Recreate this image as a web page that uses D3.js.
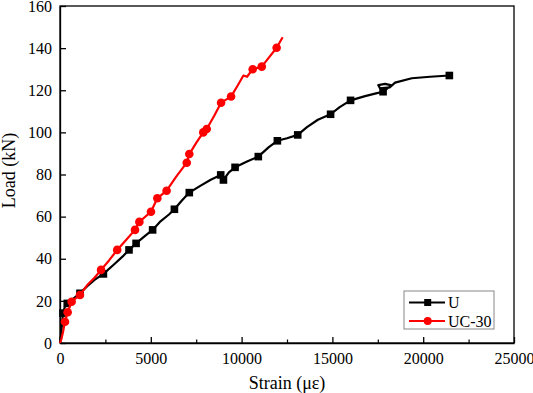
<!DOCTYPE html>
<html>
<head>
<meta charset="utf-8">
<script src="https://cdn.jsdelivr.net/npm/d3@7"></script>
<style>
  body { margin: 0; background: #fff; }
  svg text { font-family: 'Liberation Serif', serif !important; }
</style>
</head>
<body>
<svg id="mainSvg" width="533" height="393"></svg>
<script>
// U : recorded curve (strain in micro-strain, load in kN)
var uLine = [
  [0, 0], [60, 4], [120, 10], [165, 14.2], [260, 17], [400, 18.8], [650, 20.5], [1100, 23.6],
  [1500, 27], [1900, 30], [2390, 32.8], [3000, 37.5], [3500, 41.5], [3800, 44.2], [4190, 47.3],
  [4700, 51], [5100, 53.7], [5500, 57.5], [6000, 61], [6300, 63.5], [6700, 67.5], [7120, 71.4],
  [7700, 74.5], [8300, 77.5], [8850, 79.8], [9000, 77.4], [9300, 81], [9640, 83.4],
  [10300, 86.2], [10920, 88.5], [11500, 93], [11970, 96], [12500, 97.2], [13090, 98.8],
  [13600, 102.5], [14200, 106], [14900, 108.6], [15400, 112], [16000, 115.2], [16800, 117.2],
  [17400, 118.5], [17790, 119.3], [18260, 122.3], [17900, 123], [17530, 122.4], [17620, 120.9],
  [18170, 121.4], [18450, 123.6], [19370, 125.7], [20380, 126.4], [21440, 127]
];
var uMarks = [
  [165, 14.2], [400, 18.8], [1100, 23.6], [2390, 32.8], [3800, 44.2], [4190, 47.3],
  [5100, 53.7], [6300, 63.5], [7120, 71.4], [8850, 79.8], [9000, 77.4], [9640, 83.4],
  [10920, 88.5], [11970, 96], [13090, 98.8], [14900, 108.6], [16000, 115.2], [17790, 119.3],
  [21440, 127]
];

// UC-30
var ucLine = [
  [0, 0], [80, 2], [160, 5], [275, 10.1], [420, 14.6], [640, 19.6], [1100, 22.8], [1500, 27.5],
  [1900, 31], [2260, 34.7], [2700, 39.2], [3150, 44.2], [3650, 49], [4130, 53.7], [4370, 57.5],
  [5010, 62.3], [5360, 68.7], [5870, 72.3], [6400, 79], [6980, 85.6], [7120, 89.7], [7500, 95],
  [7890, 100], [8080, 101.6], [8500, 108], [8870, 114.1], [9420, 117], [9800, 122.5],
  [10100, 127], [10300, 126.4], [10610, 130], [11110, 131.2], [11500, 135.5], [11930, 140.2],
  [12260, 145.2]
];
var ucMarks = [
  [275, 10.1], [420, 14.6], [640, 19.6], [1100, 22.8], [2260, 34.7], [3150, 44.2], [4130, 53.7],
  [4370, 57.5], [5010, 62.3], [5360, 68.7], [5870, 72.3], [6980, 85.6], [7120, 89.7],
  [7890, 100], [8080, 101.6], [8870, 114.1], [9420, 117], [10610, 130], [11110, 131.2],
  [11930, 140.2]
];

var xTicks = [0, 5000, 10000, 15000, 20000, 25000];
var xMinor = [2500, 7500, 12500, 17500, 22500];
var yTicks = [0, 20, 40, 60, 80, 100, 120, 140, 160];
var seriesNames = ["U", "UC-30"];
var seriesColors = ["#000000", "#ff0000"];

var FONT = "'Liberation Serif', serif";

var margin = {top: 6, right: 19, bottom: 50, left: 60},
    width = 533 - margin.left - margin.right,
    height = 393 - margin.top - margin.bottom;

var x = d3.scaleLinear().domain([0, 25000]).range([0, width]);
var y = d3.scaleLinear().domain([0, 160]).range([height, 0]);

var svg = d3.select("#mainSvg");
var g = svg.append("g")
  .attr("transform", "translate(" + margin.left + "," + margin.top + ")");

// frame
g.append("rect")
  .attr("width", width).attr("height", height)
  .attr("fill", "none").attr("stroke", "#000").attr("stroke-width", 1.3);

// x axis
var xAxis = g.append("g")
  .attr("transform", "translate(0," + height + ")")
  .call(d3.axisBottom(x).tickValues(xTicks).tickSizeInner(-6).tickSizeOuter(0).tickPadding(10).tickFormat(d3.format("d")));
xAxis.attr("font-family", null).attr("font-size", null);
xAxis.selectAll("text").style("font-family", FONT).style("font-size", "16px").attr("fill", "#000");
xAxis.selectAll("line, path").attr("stroke", "#000").attr("stroke-width", 1.3);
g.append("g")
  .attr("transform", "translate(0," + height + ")")
  .call(d3.axisBottom(x).tickValues(xMinor).tickSizeInner(-3.5).tickSizeOuter(0).tickFormat(""))
  .call(function(s) { s.select(".domain").remove(); s.selectAll("line").attr("stroke", "#000").attr("stroke-width", 1.2); });

// y axis
var yAxis = g.append("g")
  .call(d3.axisLeft(y).tickValues(yTicks).tickSizeInner(-6).tickSizeOuter(0).tickPadding(8));
yAxis.attr("font-family", null).attr("font-size", null);
yAxis.selectAll("text").style("font-family", FONT).style("font-size", "16px").attr("fill", "#000");
yAxis.selectAll("line, path").attr("stroke", "#000").attr("stroke-width", 1.3);

// axis titles
g.append("text")
  .attr("x", width / 2).attr("y", height + 46)
  .attr("text-anchor", "middle")
  .style("font-family", FONT).style("font-size", "18px")
  .text("Strain (\u03bc\u03b5)");
g.append("text")
  .attr("transform", "rotate(-90)")
  .attr("x", -height / 2 + 4).attr("y", -45)
  .attr("text-anchor", "middle")
  .style("font-family", FONT).style("font-size", "18px")
  .text("Load (kN)");

var line = d3.line().x(function(d) { return x(d[0]); }).y(function(d) { return y(d[1]); });

// U series
g.append("path").datum(uLine)
  .attr("d", line).attr("fill", "none")
  .attr("stroke", seriesColors[0]).attr("stroke-width", 2.2).attr("stroke-linejoin", "round");
g.selectAll(".mU").data(uMarks).enter().append("rect")
  .attr("class", "mU")
  .attr("x", function(d) { return x(d[0]) - 3.8; })
  .attr("y", function(d) { return y(d[1]) - 3.8; })
  .attr("width", 7.6).attr("height", 7.6)
  .attr("fill", seriesColors[0]);

// UC-30 series
g.append("path").datum(ucLine)
  .attr("d", line).attr("fill", "none")
  .attr("stroke", seriesColors[1]).attr("stroke-width", 2.2).attr("stroke-linejoin", "round");
g.selectAll(".mUC").data(ucMarks).enter().append("circle")
  .attr("class", "mUC")
  .attr("cx", function(d) { return x(d[0]); })
  .attr("cy", function(d) { return y(d[1]); })
  .attr("r", 4.3)
  .attr("fill", seriesColors[1]);

// legend
var legend = g.append("g").attr("transform", "translate(" + (404 - margin.left) + "," + (291 - margin.top) + ")");
legend.append("rect")
  .attr("width", 90).attr("height", 38)
  .attr("fill", "#fff").attr("stroke", "#888").attr("stroke-width", 1);
seriesNames.forEach(function(name, i) {
  var ly = 11.5 + i * 18.5;
  legend.append("line")
    .attr("x1", 5).attr("x2", 41).attr("y1", ly).attr("y2", ly)
    .attr("stroke", seriesColors[i]).attr("stroke-width", 2.2);
  if (i === 0) {
    legend.append("rect").attr("x", 23.7 - 3.5).attr("y", ly - 3.5).attr("width", 7).attr("height", 7).attr("fill", seriesColors[i]);
  } else {
    legend.append("circle").attr("cx", 23.7).attr("cy", ly).attr("r", 4).attr("fill", seriesColors[i]);
  }
  legend.append("text")
    .attr("x", 44).attr("y", ly + 5.5)
    .style("font-family", FONT).style("font-size", "16px")
    .text(name);
});
</script>
</body>
</html>
